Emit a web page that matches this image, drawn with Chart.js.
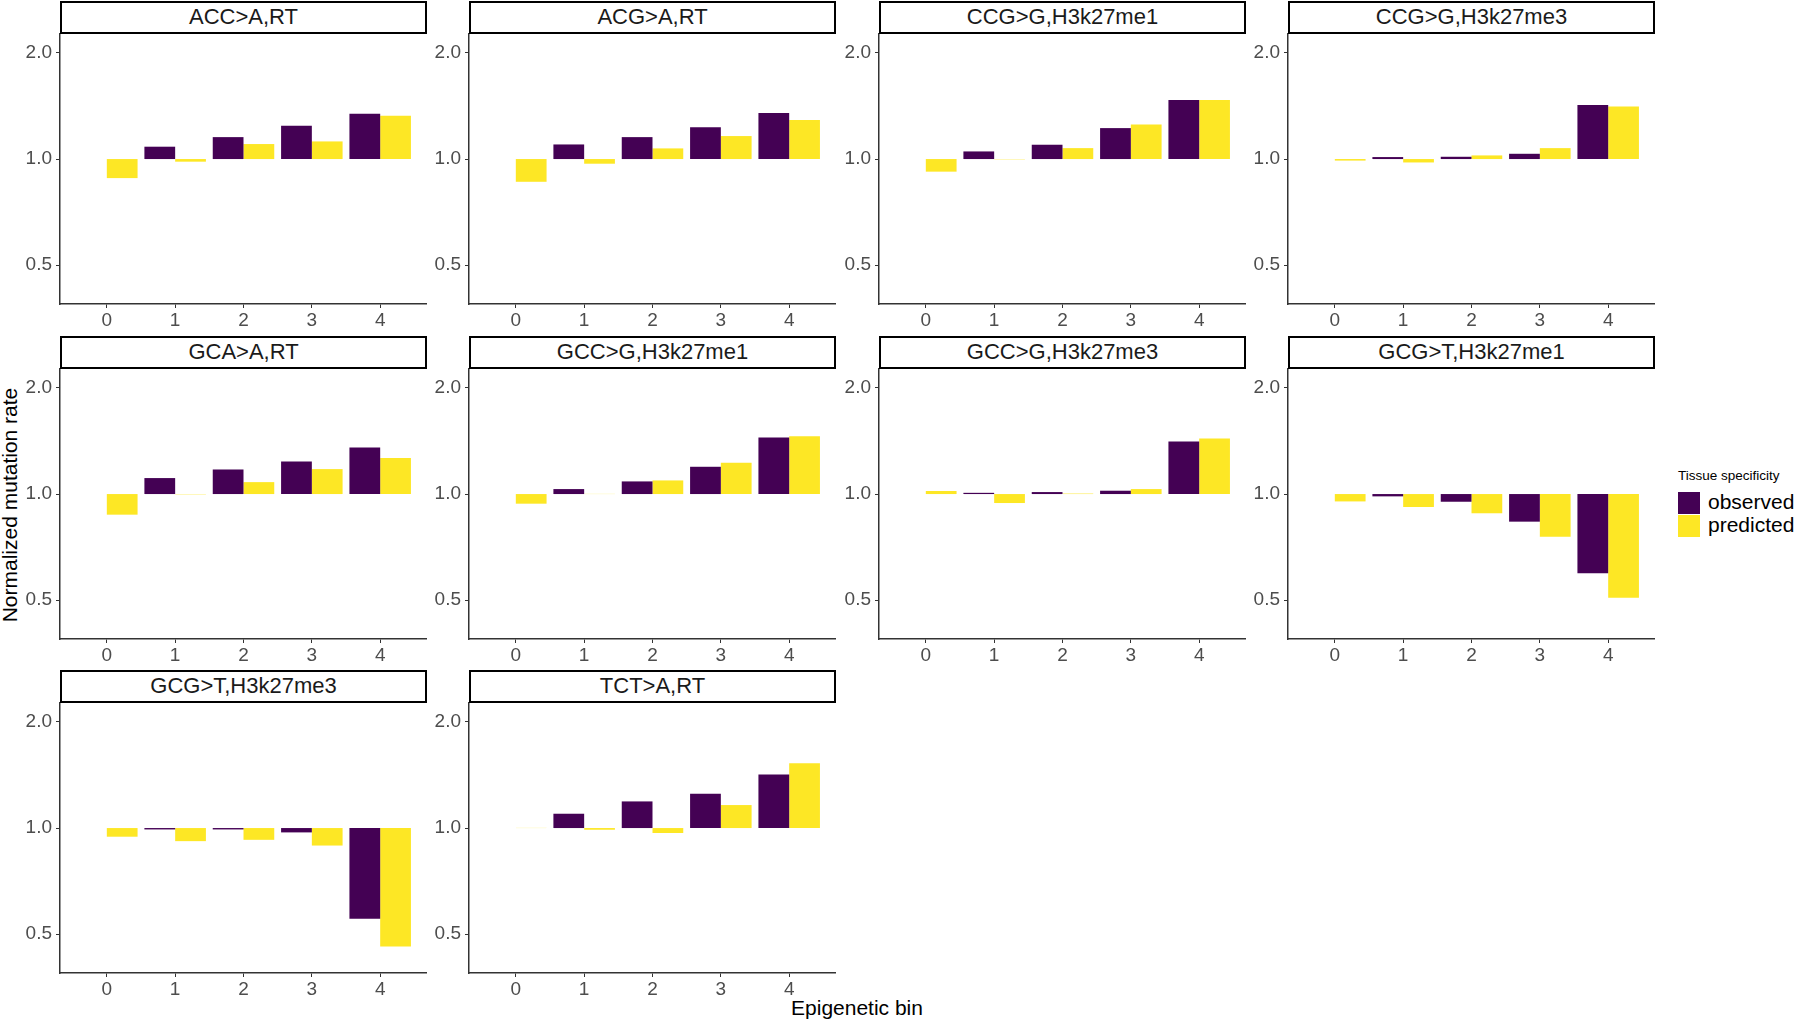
<!DOCTYPE html>
<html>
<head>
<meta charset="utf-8">
<script src="https://cdn.jsdelivr.net/npm/chart.js@4.4.1/dist/chart.umd.min.js"></script>
<style>
  body { margin: 0; background: #fff; width: 1800px; height: 1022px; position: relative; overflow: hidden;
         font-family: "Liberation Sans", Arial, sans-serif; }
  .strip { position: absolute; box-sizing: border-box; border: 2px solid #000; background: #fff;
           text-align: center; font-size: 22px; color: #1a1a1a; line-height: 28px; }
  .panel { position: absolute; }
  .ytitle { position: absolute; left: 10px; top: 505px; transform: translate(-50%, -50%) rotate(-90deg);
            white-space: nowrap; font-size: 21px; color: #000; }
  .xtitle { position: absolute; left: 857px; top: 1008px; transform: translate(-50%, -50%);
            white-space: nowrap; font-size: 21px; color: #000; }
  .legend-title { position: absolute; left: 1678px; top: 468px; font-size: 13.5px; color: #000; white-space: nowrap; }
  .key { position: absolute; left: 1678px; width: 22px; height: 22px; }
  .key-label { position: absolute; left: 1708px; font-size: 21px; color: #000; line-height: 22px; white-space: nowrap; }
</style>
</head>
<body>
<div class="ytitle">Normalized mutation rate</div>
<div class="xtitle">Epigenetic bin</div>
<div class="legend-title">Tissue specificity</div>
<div class="key" style="top:492px;background:#440154"></div>
<div class="key-label" style="top:491px">observed</div>
<div class="key" style="top:515px;background:#FDE725"></div>
<div class="key-label" style="top:514px">predicted</div>

<script>
// facet titles, one per panel
const panels = [
  "ACC>A,RT", "ACG>A,RT", "CCG>G,H3k27me1", "CCG>G,H3k27me3",
  "GCA>A,RT", "GCC>G,H3k27me1", "GCC>G,H3k27me3", "GCG>T,H3k27me1",
  "GCG>T,H3k27me3", "TCT>A,RT"
];
const bins = [0, 1, 2, 3, 4];
const yTicks = [0.5, 1, 2];

// normalized rates (bars start at 1.0)
const observed = [
  [1.0, 1.084, 1.154, 1.243, 1.344],
  [1.0, 1.100, 1.154, 1.230, 1.350],
  [1.0, 1.051, 1.098, 1.224, 1.470],
  [1.0, 1.013, 1.015, 1.035, 1.423],
  [1.0, 1.110, 1.174, 1.237, 1.355],
  [1.0, 1.033, 1.086, 1.195, 1.447],
  [1.0, 1.008, 1.013, 1.022, 1.409],
  [1.0, 0.985, 0.951, 0.835, 0.596],
  [1.0, 0.991, 0.991, 0.972, 0.553],
  [1.0, 1.098, 1.190, 1.251, 1.419]
];
const predicted = [
  [0.883, 0.983, 1.103, 1.122, 1.327],
  [0.862, 0.970, 1.072, 1.162, 1.290],
  [0.921, 0.998, 1.074, 1.254, 1.470],
  [0.990, 0.978, 1.024, 1.074, 1.410],
  [0.874, 0.998, 1.081, 1.177, 1.265],
  [0.939, 1.001, 1.093, 1.227, 1.459],
  [1.020, 0.943, 1.003, 1.033, 1.438],
  [0.953, 0.919, 0.882, 0.756, 0.508],
  [0.945, 0.918, 0.926, 0.892, 0.461],
  [1.001, 0.989, 0.968, 1.162, 1.528]
];

const colLeft = [60, 469, 879, 1288];
const rowTop = [33, 368, 702];
const plotW = 367, plotH = 271, yAxisW = 48, xAxisH = 34;
const fontFamily = '"Liberation Sans", Arial, sans-serif';

panels.forEach((title, i) => {
  const L = colLeft[i % 4], T = rowTop[Math.floor(i / 4)];

  const strip = document.createElement('div');
  strip.className = 'strip';
  strip.style.left = L + 'px';
  strip.style.top = (T - 32) + 'px';
  strip.style.width = plotW + 'px';
  strip.style.height = '33px';
  strip.textContent = title;

  const wrap = document.createElement('div');
  wrap.className = 'panel';
  wrap.style.left = (L - yAxisW) + 'px';
  wrap.style.top = T + 'px';
  const cv = document.createElement('canvas');
  cv.width = yAxisW + plotW;
  cv.height = plotH + xAxisH;
  cv.style.width = cv.width + 'px';
  cv.style.height = cv.height + 'px';
  wrap.appendChild(cv);
  document.body.appendChild(wrap);
  document.body.appendChild(strip);

  new Chart(cv, {
    type: 'bar',
    data: {
      labels: bins,
      datasets: [
        { label: 'observed', data: observed[i].map(v => [1, v]), backgroundColor: '#440154',
          categoryPercentage: 0.9, barPercentage: 1, borderWidth: 0 },
        { label: 'predicted', data: predicted[i].map(v => [1, v]), backgroundColor: '#FDE725',
          categoryPercentage: 0.9, barPercentage: 1, borderWidth: 0 }
      ]
    },
    options: {
      responsive: false,
      animation: false,
      layout: { padding: 0, autoPadding: false },
      plugins: { legend: { display: false }, tooltip: { enabled: false } },
      scales: {
        x: {
          type: 'linear', min: -0.685, max: 4.685, offset: false,
          afterBuildTicks: s => { s.ticks = bins.map(v => ({ value: v })); },
          afterFit: s => { s.height = xAxisH; s.paddingLeft = 0; s.paddingRight = 0; },
          grid: { display: true, offset: false, drawOnChartArea: false, drawTicks: true, tickLength: 4, color: '#333' },
          border: { display: true, color: '#333', width: 1.5 },
          ticks: { font: { size: 19, family: fontFamily }, color: '#4D4D4D', padding: 1,
                   maxRotation: 0, autoSkip: false }
        },
        y: {
          type: 'logarithmic', min: 0.388, max: 2.278,
          afterBuildTicks: s => { s.ticks = yTicks.map(v => ({ value: v })); },
          afterFit: s => { s.width = yAxisW; s.paddingTop = 0; s.paddingBottom = 0; },
          grid: { display: true, drawOnChartArea: false, drawTicks: true, tickLength: 4, color: '#333' },
          border: { display: true, color: '#333', width: 1.5 },
          ticks: { font: { size: 19, family: fontFamily }, color: '#4D4D4D', padding: 4, autoSkip: false,
                   callback: v => Number(v).toFixed(1) }
        }
      }
    }
  });
});
</script>
</body>
</html>
